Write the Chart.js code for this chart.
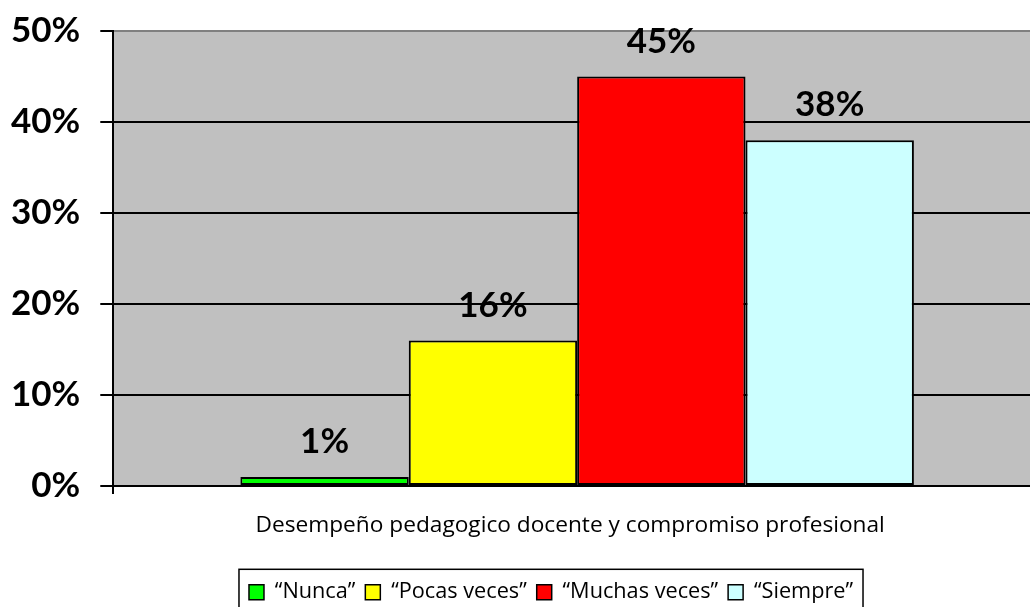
<!DOCTYPE html>
<html>
<head>
<meta charset="utf-8">
<script src="https://cdn.jsdelivr.net/npm/chart.js@4/dist/chart.umd.min.js"></script>
<style>
html,body{margin:0;padding:0;background:#fff;overflow:hidden;}
#wrap{width:1030px;height:607px;position:relative;overflow:hidden;}
#c{display:block;}
</style>
</head>
<body>
<div id="wrap"><canvas id="c" width="1041" height="607"></canvas></div>
<script>
const categories = ["Desempeño pedagogico docente y compromiso profesional"];
const seriesNames = ["\u201CNunca\u201D", "\u201CPocas veces\u201D", "\u201CMuchas veces\u201D", "\u201CSiempre\u201D"];
const nuncaValues = [1];
const pocasVecesValues = [16];
const muchasVecesValues = [45];
const siempreValues = [38];
const seriesColors = ["#00FF00", "#FFFF00", "#FF0000", "#CCFFFF"];
const yTicks = [0, 10, 20, 30, 40, 50];

const seriesValues = [nuncaValues, pocasVecesValues, muchasVecesValues, siempreValues];

const plotBg = {
  id: 'plotBg',
  beforeDraw(chart) {
    const {ctx, chartArea: a} = chart;
    ctx.save();
    ctx.fillStyle = '#C0C0C0';
    ctx.fillRect(a.left, a.top, a.right - a.left, a.bottom - a.top);
    ctx.restore();
  }
};

const valueLabels = {
  id: 'valueLabels',
  afterDatasetsDraw(chart) {
    const ctx = chart.ctx;
    ctx.save();
    ctx.font = 'bold 35px Lato';
    ctx.fillStyle = '#000';
    ctx.textAlign = 'center';
    ctx.textBaseline = 'middle';
    chart.data.datasets.forEach((ds, i) => {
      chart.getDatasetMeta(i).data.forEach((bar, j) => {
        ctx.fillText(ds.data[j] + '%', bar.x, bar.y - 35);
      });
    });
    ctx.restore();
  }
};

const legendShift = {
  id: 'legendShift',
  afterLayout(chart) {
    const lg = chart.legend;
    if (!lg) return;
    lg.left += 35;
    lg.right += 35;
  }
};

const legendBorder = {
  id: 'legendBorder',
  afterDraw(chart) {
    const boxes = chart.legend.legendHitBoxes;
    if (!boxes || !boxes.length) return;
    let minX = Infinity, maxX = -Infinity, minY = Infinity, maxY = -Infinity;
    boxes.forEach(b => {
      minX = Math.min(minX, b.left); maxX = Math.max(maxX, b.left + b.width);
      minY = Math.min(minY, b.top); maxY = Math.max(maxY, b.top + b.height);
    });
    const ctx = chart.ctx;
    ctx.save();
    ctx.strokeStyle = '#000';
    ctx.lineWidth = 1.5;
    ctx.strokeRect(minX - 10, minY - 12, (maxX - minX) + 20, (maxY - minY) + 40);
    ctx.restore();
  }
};

new Chart(document.getElementById('c'), {
  type: 'bar',
  data: {
    labels: categories,
    datasets: seriesNames.map((n, i) => ({
      label: n,
      data: seriesValues[i],
      backgroundColor: seriesColors[i],
      borderColor: '#000',
      borderWidth: 2,
      borderSkipped: false,
      categoryPercentage: 0.726,
      barPercentage: 1.0
    }))
  },
  options: {
    responsive: false,
    animation: false,
    devicePixelRatio: 1,
    layout: { padding: { left: -9, right: 0, top: 31, bottom: -6 } },
    plugins: {
      legend: {
        position: 'bottom',
        labels: {
          font: { family: 'Open Sans', size: 21.7 },
          color: '#000',
          boxWidth: 15,
          boxHeight: 15,
          padding: 10,
          generateLabels(chart) {
            return chart.data.datasets.map((ds, i) => ({
              text: ds.label,
              fillStyle: ds.backgroundColor,
              strokeStyle: '#000',
              lineWidth: 1.5,
              datasetIndex: i,
              hidden: false
            }));
          }
        }
      },
      tooltip: { enabled: false }
    },
    scales: {
      x: {
        afterFit(scale) {
          scale.height += 14;
          scale.paddingLeft = 0;
          scale.paddingRight = 0;
        },
        grid: { display: true, drawOnChartArea: false, offset: true, tickLength: 8, color: '#000', lineWidth: 2 },
        border: { display: true, color: '#000', width: 2 },
        ticks: { font: { family: 'Open Sans', size: 22.7 }, color: '#000', padding: 18, labelOffset: -7 }
      },
      y: {
        min: 0,
        max: 50,
        afterBuildTicks(scale) { scale.ticks = yTicks.map(v => ({ value: v })); },
        afterFit(scale) {
          scale.paddingTop = 0;
          scale.paddingBottom = 0;
        },
        grid: {
          color: ctx => (ctx.tick && ctx.tick.value === 50) ? '#808080' : '#000',
          lineWidth: 2,
          tickLength: 13,
          tickColor: '#000'
        },
        border: { display: true, color: '#000', width: 2 },
        ticks: {
          font: { family: 'Lato', size: 35, weight: 'bold' },
          color: '#000',
          padding: 20,
          callback: v => v + '%'
        }
      }
    }
  },
  plugins: [plotBg, valueLabels, legendShift, legendBorder]
});
</script>
</body>
</html>
